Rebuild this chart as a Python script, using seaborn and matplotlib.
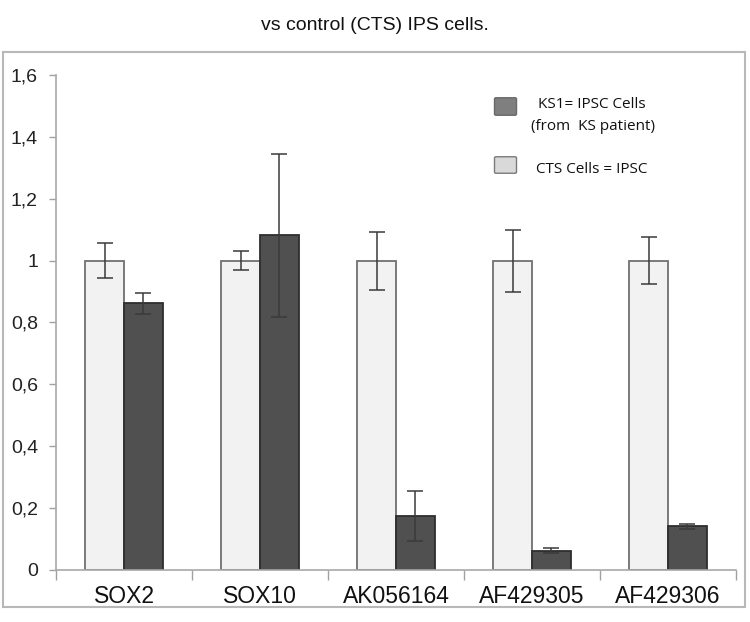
import matplotlib
matplotlib.use("Agg")
import matplotlib.pyplot as plt
from matplotlib.patches import Rectangle, FancyBboxPatch
from matplotlib.ticker import FuncFormatter
import numpy as np
import pandas as pd
import seaborn as sns

genes = ["SOX2", "SOX10", "AK056164", "AF429305", "AF429306"]
groups = ["CTS Cells = IPSC", "KS1= IPSC Cells"]
cts_values = [1.0, 1.0, 1.0, 1.0, 1.0]
cts_errors = [0.057, 0.03, 0.094, 0.1, 0.075]
ks1_values = [0.862, 1.082, 0.175, 0.063, 0.141]
ks1_errors = [0.033, 0.263, 0.08, 0.008, 0.008]
yticks = [0, 0.2, 0.4, 0.6, 0.8, 1.0, 1.2, 1.4, 1.6]

df = pd.DataFrame({
    "gene": genes * 2,
    "group": [groups[0]] * len(genes) + [groups[1]] * len(genes),
    "value": cts_values + ks1_values,
})
errors = {groups[0]: cts_errors, groups[1]: ks1_errors}

sns.set_theme(style="white")
plt.rcParams["font.family"] = ["Liberation Sans", "DejaVu Sans"]

fig = plt.figure(figsize=(7.5, 6.22), dpi=100)
ax = fig.add_axes([56 / 750, 1 - 570 / 622, 680 / 750, 495 / 622])

colors = {groups[0]: "#f2f2f2", groups[1]: "#505050"}
sns.barplot(data=df, x="gene", y="value", hue="group", hue_order=groups,
            order=genes, palette=colors, width=0.57, errorbar=None,
            legend=False, ax=ax)

edge = {groups[0]: "#707070", groups[1]: "#2e2e2e"}
for cont, grp in zip(ax.containers, groups):
    for bar, err in zip(cont, errors[grp]):
        bar.set_edgecolor(edge[grp])
        bar.set_linewidth(1.3)
        xc = bar.get_x() + bar.get_width() / 2
        ax.errorbar(xc, bar.get_height(), yerr=err, fmt="none",
                    ecolor="#3a3a3a", elinewidth=1.1, capsize=6,
                    capthick=1.1, zorder=5)

ax.set_ylim(0, 1.6)
ax.set_xlim(-0.5, len(genes) - 0.5)
ax.set_yticks(yticks)
ax.yaxis.set_major_formatter(FuncFormatter(
    lambda v, p: ("%g" % round(v, 1)).replace(".", ",")))
ax.set_xticks(np.arange(-0.5, len(genes), 1.0))
ax.set_xticklabels([])
ax.set_xticks(np.arange(len(genes)), minor=True)
ax.set_xticklabels(genes, minor=True)
ax.tick_params(axis="x", which="major", direction="out", length=7,
               width=1, color="#a0a0a0", bottom=True)
ax.tick_params(axis="x", which="minor", length=0, labelsize=16.5,
               pad=11, labelcolor="#111111")
ax.tick_params(axis="y", direction="out", length=5, width=1,
               color="#a0a0a0", left=True, labelsize=14, pad=8,
               labelcolor="#222222")
ax.set_xlabel("")
ax.set_ylabel("")
for s in ["top", "right"]:
    ax.spines[s].set_visible(False)
for s in ["left", "bottom"]:
    ax.spines[s].set_color("#a8a8a8")
    ax.spines[s].set_linewidth(1.2)

# outer frame
fig.patches.append(Rectangle((3 / 750, 1 - 607 / 622), 742 / 750, 555 / 622,
                             transform=fig.transFigure, fill=False,
                             edgecolor="#b8b8b8", linewidth=1.5))

fig.text(0.5, 1 - 25 / 622, "vs control (CTS) IPS cells.", ha="center",
         va="center", fontsize=14, color="#111111")

# legend drawn by hand, like the original
leg_font = ["Open Sans", "DejaVu Sans"]
fig.patches.append(FancyBboxPatch((496 / 750, 1 - 114 / 622), 19 / 750, 15 / 622,
                                  boxstyle="round,pad=0.002",
                                  transform=fig.transFigure,
                                  facecolor="#7f7f7f", edgecolor="#6a6a6a"))
fig.patches.append(FancyBboxPatch((496 / 750, 1 - 172 / 622), 19 / 750, 14 / 622,
                                  boxstyle="round,pad=0.002",
                                  transform=fig.transFigure,
                                  facecolor="#d9d9d9", edgecolor="#7a7a7a"))
fig.text(592 / 750, 1 - 104 / 622, "KS1= IPSC Cells", ha="center", va="center",
         fontsize=11, family=leg_font, color="#111111")
fig.text(593 / 750, 1 - 126 / 622, "(from  KS patient)", ha="center",
         va="center", fontsize=11, family=leg_font, color="#111111")
fig.text(592 / 750, 1 - 170 / 622, "CTS Cells = IPSC", ha="center",
         va="center", fontsize=11, family=leg_font, color="#111111")

fig.savefig("out.png", dpi=100)
